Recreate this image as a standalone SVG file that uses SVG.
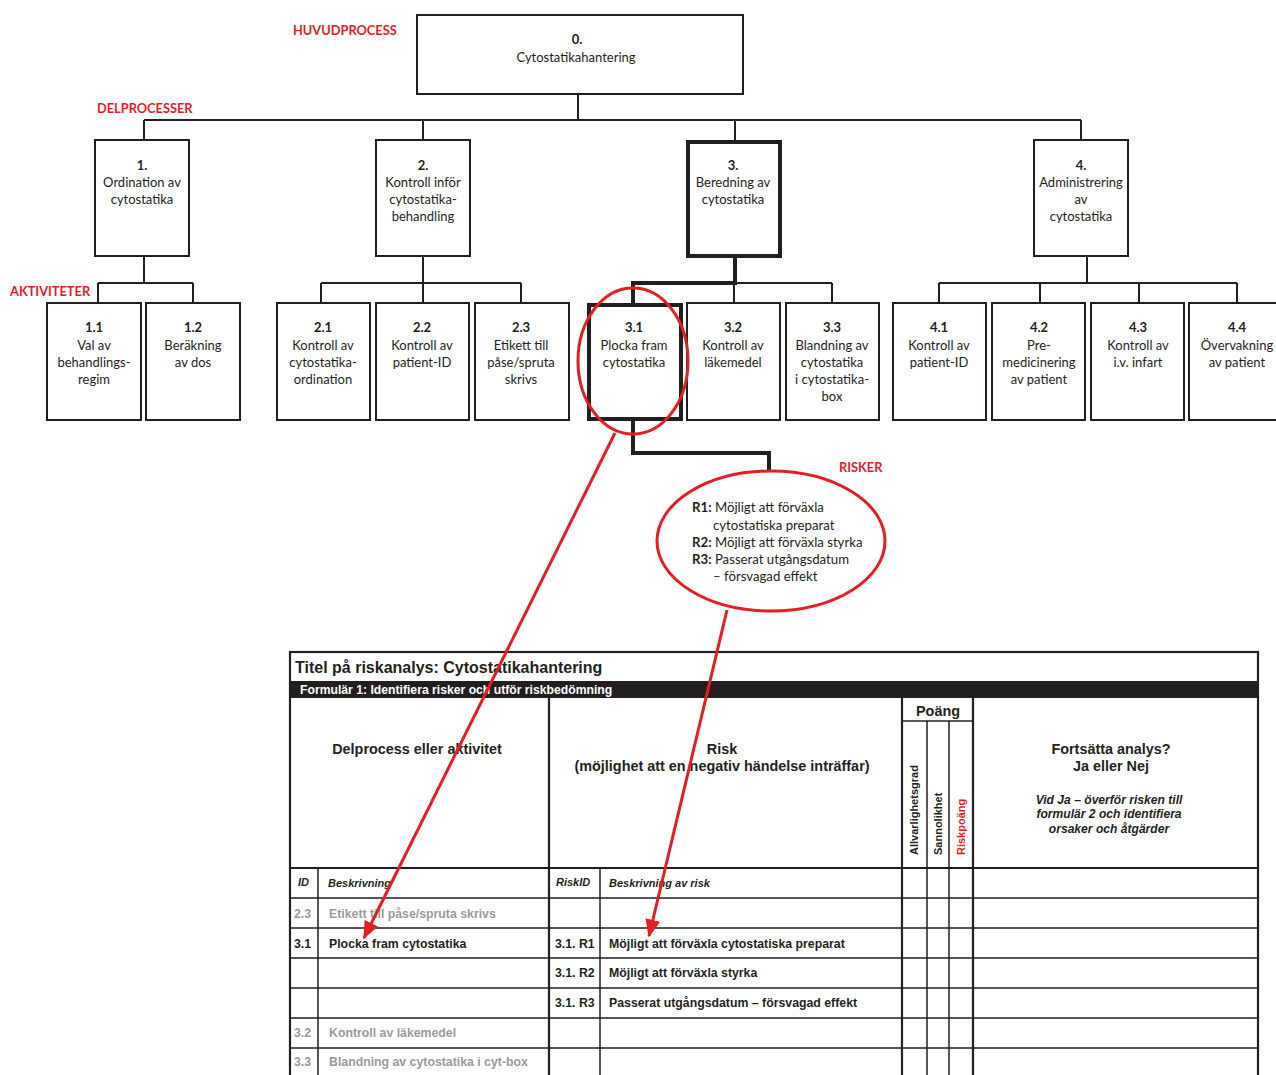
<svg xmlns="http://www.w3.org/2000/svg" width="1276" height="1075" viewBox="0 0 1276 1075">
  <defs>
    <style>
      .bg { fill: #ffffff; }
      .box { fill: #ffffff; stroke: #231f20; stroke-width: 2; }
      .box-strong { fill: #ffffff; stroke: #231f20; stroke-width: 4; }
      .wire { fill: none; stroke: #231f20; stroke-width: 2; }
      .wire-strong { fill: none; stroke: #231f20; stroke-width: 4; }
      .ring { fill: none; stroke: #e31e24; stroke-width: 3; }
      .pointer { fill: none; stroke: #e31e24; stroke-width: 3; }
      .nt { font-family: Lato, "Open Sans", sans-serif; font-size: 13px; fill: #231f20; text-anchor: middle; }
      .nb { font-weight: bold; }
      .tag { font-family: Lato, "Open Sans", sans-serif; font-size: 12.8px; font-weight: bold; fill: #e31e24; }
      .rk { font-family: Lato, "Open Sans", sans-serif; font-size: 13.2px; fill: #231f20; }
      .tb { font-family: "Liberation Sans", Arial, sans-serif; fill: #231f20; }
      .t-title { font-size: 16px; font-weight: bold; }
      .t-band { font-size: 12.2px; font-weight: bold; fill: #ffffff; }
      .t-head { font-size: 14.4px; font-weight: bold; text-anchor: middle; }
      .t-note { font-size: 12.1px; font-weight: bold; font-style: italic; text-anchor: middle; }
      .t-rot { font-size: 11px; font-weight: bold; }
      .t-red { fill: #e31e24; }
      .t-sub { font-size: 11px; font-weight: bold; font-style: italic; }
      .t-row { font-size: 12.3px; font-weight: bold; }
      .grey { fill: #9a9a9a; }
      .grid { fill: none; stroke: #231f20; stroke-width: 1.5; }
      .grid-strong { fill: none; stroke: #231f20; stroke-width: 2.2; }
    </style>
    <marker id="arrow-red" viewBox="0 0 12 10" refX="11" refY="5" markerWidth="6" markerHeight="5" markerUnits="strokeWidth" orient="auto">
      <path d="M0,0 L12,5 L0,10 Z" fill="#e31e24"/>
    </marker>
  </defs>

  <rect class="bg" x="0" y="0" width="1276" height="1075"/>

  <!-- level captions -->
  <g id="captions">
    <text class="tag" x="293" y="35">HUVUDPROCESS</text>
    <text class="tag" x="97" y="113">DELPROCESSER</text>
    <text class="tag" x="10" y="296">AKTIVITETER</text>
    <text class="tag" x="839" y="472">RISKER</text>
  </g>

  <!-- tree connectors -->
  <g id="connectors">
    <path class="wire" d="M578 94 V120 M144 120 H1081 M144 120 V140 M423 120 V140 M735 120 V140 M1081 120 V140"/>
    <path class="wire" d="M144 256 V283 M98 283 H193 M98 283 V303 M193 283 V303"/>
    <path class="wire" d="M423 256 V283 M321 283 H521 M321 283 V303 M423 283 V303 M521 283 V303"/>
    <path class="wire" d="M735 283 H832 M734 283 V303 M832 283 V303"/>
    <path class="wire" d="M1087 256 V283 M939 283 H1237 M939 283 V303 M1040 283 V303 M1139 283 V303 M1237 283 V303"/>
    <path class="wire-strong" d="M735 257 V283 H633 V304"/>
    <path class="wire-strong" d="M633 419 V453 H769 V472"/>
  </g>

  <!-- main process -->
  <g id="node-0">
    <rect class="box" x="417" y="15" width="326" height="79"/>
    <text class="nt nb" x="577" y="44">0.</text>
    <text class="nt" x="576" y="62">Cytostatikahantering</text>
  </g>

  <!-- sub-processes -->
  <g id="node-1">
    <rect class="box" x="95" y="140" width="94" height="116"/>
    <text class="nt nb" x="142" y="170">1.</text>
    <text class="nt" x="142" y="187">Ordination av</text>
    <text class="nt" x="142" y="204">cytostatika</text>
  </g>
  <g id="node-2">
    <rect class="box" x="376" y="140" width="94" height="116"/>
    <text class="nt nb" x="423" y="170">2.</text>
    <text class="nt" x="423" y="187">Kontroll inför</text>
    <text class="nt" x="423" y="204">cytostatika-</text>
    <text class="nt" x="423" y="221">behandling</text>
  </g>
  <g id="node-3">
    <rect class="box-strong" x="688" y="142" width="92" height="114"/>
    <text class="nt nb" x="733" y="170">3.</text>
    <text class="nt" x="733" y="187">Beredning av</text>
    <text class="nt" x="733" y="204">cytostatika</text>
  </g>
  <g id="node-4">
    <rect class="box" x="1034" y="140" width="94" height="116"/>
    <text class="nt nb" x="1081" y="170">4.</text>
    <text class="nt" x="1081" y="187">Administrering</text>
    <text class="nt" x="1081" y="204">av</text>
    <text class="nt" x="1081" y="221">cytostatika</text>
  </g>

  <!-- activities -->
  <g id="node-1-1">
    <rect class="box" x="47" y="303" width="94" height="117"/>
    <text class="nt nb" x="94" y="332">1.1</text>
    <text class="nt" x="94" y="350">Val av</text>
    <text class="nt" x="94" y="367">behandlings-</text>
    <text class="nt" x="94" y="384">regim</text>
  </g>
  <g id="node-1-2">
    <rect class="box" x="146" y="303" width="94" height="117"/>
    <text class="nt nb" x="193" y="332">1.2</text>
    <text class="nt" x="193" y="350">Beräkning</text>
    <text class="nt" x="193" y="367">av dos</text>
  </g>
  <g id="node-2-1">
    <rect class="box" x="277" y="303" width="93" height="117"/>
    <text class="nt nb" x="323" y="332">2.1</text>
    <text class="nt" x="323" y="350">Kontroll av</text>
    <text class="nt" x="323" y="367">cytostatika-</text>
    <text class="nt" x="323" y="384">ordination</text>
  </g>
  <g id="node-2-2">
    <rect class="box" x="376" y="303" width="93" height="117"/>
    <text class="nt nb" x="422" y="332">2.2</text>
    <text class="nt" x="422" y="350">Kontroll av</text>
    <text class="nt" x="422" y="367">patient-ID</text>
  </g>
  <g id="node-2-3">
    <rect class="box" x="475" y="303" width="94" height="117"/>
    <text class="nt nb" x="521" y="332">2.3</text>
    <text class="nt" x="521" y="350">Etikett till</text>
    <text class="nt" x="521" y="367">påse/spruta</text>
    <text class="nt" x="521" y="384">skrivs</text>
  </g>
  <g id="node-3-1">
    <rect class="box-strong" x="589" y="305" width="92" height="114"/>
    <text class="nt nb" x="634" y="332">3.1</text>
    <text class="nt" x="634" y="350">Plocka fram</text>
    <text class="nt" x="634" y="367">cytostatika</text>
  </g>
  <g id="node-3-2">
    <rect class="box" x="687" y="303" width="93" height="117"/>
    <text class="nt nb" x="733" y="332">3.2</text>
    <text class="nt" x="733" y="350">Kontroll av</text>
    <text class="nt" x="733" y="367">läkemedel</text>
  </g>
  <g id="node-3-3">
    <rect class="box" x="786" y="303" width="93" height="117"/>
    <text class="nt nb" x="832" y="332">3.3</text>
    <text class="nt" x="832" y="350">Blandning av</text>
    <text class="nt" x="832" y="367">cytostatika</text>
    <text class="nt" x="832" y="384">i cytostatika-</text>
    <text class="nt" x="832" y="401">box</text>
  </g>
  <g id="node-4-1">
    <rect class="box" x="893" y="303" width="93" height="117"/>
    <text class="nt nb" x="939" y="332">4.1</text>
    <text class="nt" x="939" y="350">Kontroll av</text>
    <text class="nt" x="939" y="367">patient-ID</text>
  </g>
  <g id="node-4-2">
    <rect class="box" x="992" y="303" width="93" height="117"/>
    <text class="nt nb" x="1039" y="332">4.2</text>
    <text class="nt" x="1039" y="350">Pre-</text>
    <text class="nt" x="1039" y="367">medicinering</text>
    <text class="nt" x="1039" y="384">av patient</text>
  </g>
  <g id="node-4-3">
    <rect class="box" x="1091" y="303" width="93" height="117"/>
    <text class="nt nb" x="1138" y="332">4.3</text>
    <text class="nt" x="1138" y="350">Kontroll av</text>
    <text class="nt" x="1138" y="367">i.v. infart</text>
  </g>
  <g id="node-4-4">
    <rect class="box" x="1189" y="303" width="96" height="117"/>
    <text class="nt nb" x="1237" y="332">4.4</text>
    <text class="nt" x="1237" y="350">Övervakning</text>
    <text class="nt" x="1237" y="367">av patient</text>
  </g>

  <!-- highlight around activity 3.1 -->
  <ellipse id="mark-3-1" class="ring" cx="633" cy="361" rx="55" ry="73"/>

  <!-- risk bubble -->
  <g id="risks">
    <ellipse cx="771" cy="541" rx="114" ry="70" fill="#ffffff" stroke="#e31e24" stroke-width="3"/>
    <text class="rk" x="692" y="512"><tspan font-weight="bold">R1:</tspan> Möjligt att förväxla</text>
    <text class="rk" x="713" y="530">cytostatiska preparat</text>
    <text class="rk" x="692" y="547"><tspan font-weight="bold">R2:</tspan> Möjligt att förväxla styrka</text>
    <text class="rk" x="692" y="564"><tspan font-weight="bold">R3:</tspan> Passerat utgångsdatum</text>
    <text class="rk" x="713" y="581">– försvagad effekt</text>
  </g>

  <!-- risk analysis form -->
  <g id="form">
    <rect x="290" y="652" width="968" height="440" fill="#ffffff" stroke="#231f20" stroke-width="2.2"/>
    <text class="tb t-title" x="295" y="673">Titel på riskanalys: Cytostatikahantering</text>
    <rect x="290" y="681" width="968" height="17" fill="#231f20"/>
    <text class="tb t-band" x="300" y="694">Formulär 1: Identifiera risker och utför riskbedömning</text>

    <!-- vertical rules -->
    <path class="grid" d="M318 868 V1075 M600 868 V1075 M927 721 V1075 M949 721 V1075"/>
    <path class="grid-strong" d="M549 698 V1075 M902 698 V1075 M973 698 V1075"/>
    <!-- horizontal rules -->
    <path class="grid" d="M902 721 H973"/>
    <path class="grid-strong" d="M290 868 H1258"/>
    <path class="grid" d="M290 898 H1258 M290 928 H1258 M290 958 H1258 M290 988 H1258 M290 1018 H1258 M290 1048 H1258"/>

    <!-- column headings -->
    <text class="tb t-head" x="417" y="754">Delprocess eller aktivitet</text>
    <text class="tb t-head" x="722" y="754">Risk</text>
    <text class="tb t-head" x="722" y="771">(möjlighet att en negativ händelse inträffar)</text>
    <text class="tb t-head" x="938" y="716">Poäng</text>
    <text class="tb t-rot" transform="translate(918 855) rotate(-90)">Allvarlighetsgrad</text>
    <text class="tb t-rot" transform="translate(942 855) rotate(-90)">Sannolikhet</text>
    <text class="tb t-rot t-red" transform="translate(965 855) rotate(-90)">Riskpoäng</text>
    <text class="tb t-head" x="1111" y="754">Fortsätta analys?</text>
    <text class="tb t-head" x="1111" y="771">Ja eller Nej</text>
    <text class="tb t-note" x="1109" y="804">Vid Ja – överför risken till</text>
    <text class="tb t-note" x="1109" y="818">formulär 2 och identifiera</text>
    <text class="tb t-note" x="1109" y="833">orsaker och åtgärder</text>

    <text class="tb t-sub" x="298" y="886">ID</text>
    <text class="tb t-sub" x="328" y="887">Beskrivning</text>
    <text class="tb t-sub" x="556" y="886">RiskID</text>
    <text class="tb t-sub" x="609" y="887">Beskrivning av risk</text>

    <!-- rows -->
    <text class="tb t-row grey" x="294" y="918">2.3</text>
    <text class="tb t-row grey" x="329" y="918">Etikett till påse/spruta skrivs</text>
    <text class="tb t-row" x="294" y="948">3.1</text>
    <text class="tb t-row" x="329" y="948">Plocka fram cytostatika</text>
    <text class="tb t-row" x="555" y="948">3.1. R1</text>
    <text class="tb t-row" x="609" y="948">Möjligt att förväxla cytostatiska preparat</text>
    <text class="tb t-row" x="555" y="977">3.1. R2</text>
    <text class="tb t-row" x="609" y="977">Möjligt att förväxla styrka</text>
    <text class="tb t-row" x="555" y="1007">3.1. R3</text>
    <text class="tb t-row" x="609" y="1007">Passerat utgångsdatum – försvagad effekt</text>
    <text class="tb t-row grey" x="294" y="1037">3.2</text>
    <text class="tb t-row grey" x="329" y="1037">Kontroll av läkemedel</text>
    <text class="tb t-row grey" x="294" y="1066">3.3</text>
    <text class="tb t-row grey" x="329" y="1066">Blandning av cytostatika i cyt-box</text>
  </g>

  <!-- pointers from the chart into the form -->
  <g id="pointers">
    <path class="pointer" d="M615 433 L364 938" marker-end="url(#arrow-red)"/>
    <path class="pointer" d="M727 610 L649 936" marker-end="url(#arrow-red)"/>
  </g>
</svg>
